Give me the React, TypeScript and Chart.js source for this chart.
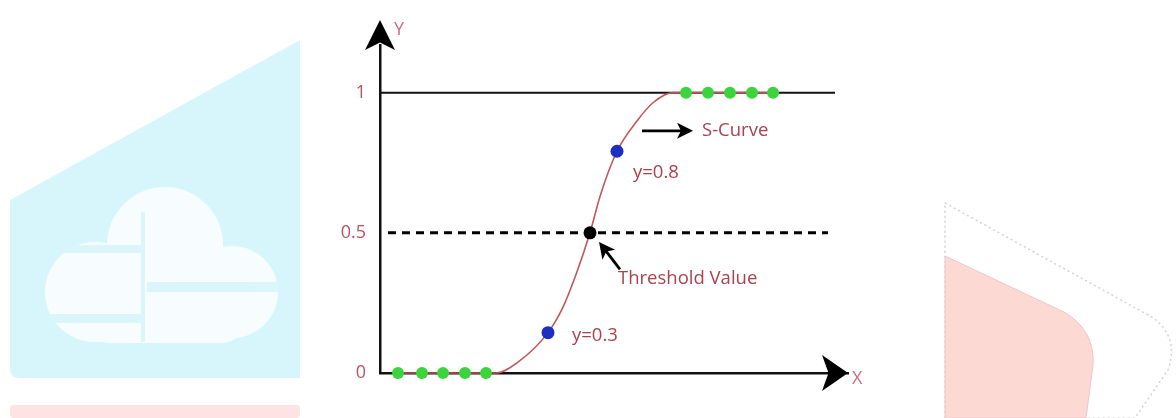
import React, { useEffect, useRef } from "react";
import { Chart, registerables } from "chart.js";

Chart.register(...registerables);

// ---- data (x in arbitrary horizontal units, y = probability) ----
const curveX = [1.8, 11.6, 13.7, 16.8, 18.3, 19.7, 21.0, 22.0, 23.7, 25.7, 27.3, 29.3, 39.3];
const curveY = [0, 0, 0.036, 0.144, 0.235, 0.361, 0.5, 0.63, 0.791, 0.899, 0.964, 1, 1];
const classZeroX = [1.8, 4.2, 6.3, 8.5, 10.6];
const classOneX = [30.6, 32.8, 35.0, 37.2, 39.3];
const sampleX = [16.8, 23.7];
const sampleY = [0.144, 0.791];
const thresholdX = [21.0];
const thresholdY = [0.5];
const upperLineX = [0, 45.5];
const thresholdLineX = [0.8, 44.8];
const yTicks = [0, 0.5, 1];
const yTickLabels = ["0", "0.5", "1"];

const labelTexts = ["S-Curve", "y=0.8", "y=0.3", "Threshold Value"];
const labelX = [32.2, 25.3, 19.2, 23.8];
const labelY = [0.864, 0.715, 0.132, 0.338];
const arrowFromX = [26.2, 24.0];
const arrowFromY = [0.864, 0.37];
const arrowToX = [31.3, 21.9];
const arrowToY = [0.864, 0.467];

const FONT = "'Open Sans', 'Noto Sans', sans-serif";
const TEXT_RED = "#a8424f";
const AXIS_PINK = "#cf6a80";

function drawArrow(ctx: CanvasRenderingContext2D, x1: number, y1: number, x2: number, y2: number, len: number, half: number, lw: number) {
  const a = Math.atan2(y2 - y1, x2 - x1);
  const c = Math.cos(a), s = Math.sin(a);
  if (lw > 0) {
    ctx.lineWidth = lw;
    ctx.beginPath();
    ctx.moveTo(x1, y1);
    ctx.lineTo(x2 - c * len * 0.7, y2 - s * len * 0.7);
    ctx.stroke();
  }
  ctx.beginPath();
  ctx.moveTo(x2, y2);
  ctx.lineTo(x2 - c * len - s * half, y2 - s * len + c * half);
  ctx.lineTo(x2 - c * len * 0.75, y2 - s * len * 0.75);
  ctx.lineTo(x2 - c * len + s * half, y2 - s * len - c * half);
  ctx.closePath();
  ctx.fill();
}

const decorPlugin = {
  id: "decor",
  afterDatasetsDraw(chart: any) {
    const { ctx, chartArea, scales } = chart;
    const xs = scales.x, ys = scales.y;
    ctx.save();
    ctx.fillStyle = "#000";
    ctx.strokeStyle = "#000";
    // y axis arrow
    drawArrow(ctx, chartArea.left, chartArea.top + 5, chartArea.left, chartArea.top - 25, 30, 15, 0);
    // x axis arrow
    drawArrow(ctx, chartArea.right - 26, chartArea.bottom, chartArea.right, chartArea.bottom, 26, 18, 0);
    // axis names
    ctx.fillStyle = AXIS_PINK;
    ctx.font = `18px ${FONT}`;
    ctx.textBaseline = "middle";
    ctx.textAlign = "left";
    ctx.fillText("Y", chartArea.left + 14, chartArea.top - 15);
    ctx.fillText("X", chartArea.right + 4, chartArea.bottom + 6);
    // annotation arrows
    ctx.fillStyle = "#000";
    ctx.strokeStyle = "#000";
    for (let i = 0; i < arrowFromX.length; i++) {
      drawArrow(
        ctx,
        xs.getPixelForValue(arrowFromX[i]),
        ys.getPixelForValue(arrowFromY[i]),
        xs.getPixelForValue(arrowToX[i]),
        ys.getPixelForValue(arrowToY[i]),
        16,
        8,
        2.8
      );
    }
    // annotation texts
    ctx.fillStyle = TEXT_RED;
    ctx.font = `18.5px ${FONT}`;
    for (let i = 0; i < labelTexts.length; i++) {
      ctx.fillText(labelTexts[i], xs.getPixelForValue(labelX[i]), ys.getPixelForValue(labelY[i]));
    }
    ctx.restore();
  },
};

function Watermark() {
  return (
    <svg width={1176} height={418} style={{ position: "absolute", left: 0, top: 0 }}>
      <path d="M10,200 L300,40 L300,378 L20,378 Q10,378 10,368 Z" fill="#d7f6fb" />
      <g fill="#ffffff" opacity={0.8}>
        <circle cx={165} cy={245} r={58} />
        <circle cx={95} cy={292} r={50} />
        <circle cx={232} cy={292} r={46} />
        <rect x={80} y={262} width={170} height={81} rx={30} />
      </g>
      <g fill="#d7f6fb" opacity={0.9}>
        <rect x={47} y={245} width={96} height={8} />
        <rect x={147} y={282} width={132} height={10} />
        <rect x={47} y={314} width={96} height={9} />
        <rect x={141} y={212} width={4} height={130} />
      </g>
      <rect x={10} y={405} width={290} height={13} rx={4} fill="#fde3e3" />
      <path d="M945,203 L1150,316 Q1180,335 1168,370 L1135,418 L945,418 Z" fill="#ffffff" stroke="#d2d2d2" strokeWidth={1.5} strokeDasharray="2 3" />
      <path d="M945,256 L1064,312 Q1095,330 1093,365 L1086,418 L945,418 Z" fill="#fdd9d3" stroke="#ebc6ca" strokeWidth={1} />
    </svg>
  );
}

export default function App() {
  const ref = useRef<HTMLCanvasElement | null>(null);

  useEffect(() => {
    document.body.style.margin = "0";
    if (!ref.current) return;
    const pts = (xs: number[], ys: number[]) => xs.map((x, i) => ({ x, y: ys[i] }));
    const chart = new Chart(ref.current, {
      type: "scatter",
      data: {
        datasets: [
          {
            label: "Threshold",
            data: pts(thresholdX, thresholdY),
            pointRadius: 6.5,
            pointBackgroundColor: "#000",
            pointBorderWidth: 0,
            clip: false,
          } as any,
          {
            label: "Samples",
            data: pts(sampleX, sampleY),
            pointRadius: 6.5,
            pointBackgroundColor: "#1b2fc2",
            pointBorderWidth: 0,
            clip: false,
          },
          {
            label: "Class 0",
            data: pts(classZeroX, classZeroX.map(() => 0)),
            pointRadius: 6,
            pointBackgroundColor: "#3cd43c",
            pointBorderWidth: 0,
            clip: false,
          },
          {
            label: "Class 1",
            data: pts(classOneX, classOneX.map(() => 1)),
            pointRadius: 6,
            pointBackgroundColor: "#3cd43c",
            pointBorderWidth: 0,
            clip: false,
          },
          {
            type: "line",
            label: "S-Curve",
            data: pts(curveX, curveY),
            borderColor: "#c0585a",
            borderWidth: 1.6,
            pointRadius: 0,
            cubicInterpolationMode: "monotone",
            fill: false,
            clip: false,
          } as any,
          {
            type: "line",
            label: "Threshold line",
            data: pts(thresholdLineX, [0.5, 0.5]),
            borderColor: "#000",
            borderWidth: 3,
            borderDash: [8, 6],
            pointRadius: 0,
            fill: false,
            clip: false,
          } as any,
          {
            type: "line",
            label: "y = 1",
            data: pts(upperLineX, [1, 1]),
            borderColor: "#111",
            borderWidth: 2,
            pointRadius: 0,
            fill: false,
            clip: false,
          } as any,
        ],
      },
      options: {
        animation: false,
        responsive: false,
        maintainAspectRatio: false,
        layout: { padding: { left: 0, top: 45, right: 328, bottom: 45 } },
        plugins: { legend: { display: false }, tooltip: { enabled: false } },
        scales: {
          x: {
            type: "linear",
            min: 0,
            max: 46.8,
            grid: { display: false, drawTicks: false },
            ticks: { display: false },
            border: { display: true, color: "#111", width: 2.5 },
            afterFit(s: any) {
              s.height = 0;
            },
          },
          y: {
            type: "linear",
            min: 0,
            max: 1.17,
            grid: { display: false, drawTicks: false },
            border: { display: true, color: "#111", width: 2.5 },
            ticks: {
              padding: 14,
              color: "#b9525f",
              font: { family: FONT, size: 18 },
              callback: (v: any) => {
                const i = yTicks.indexOf(Number(v));
                return i >= 0 ? yTickLabels[i] : "";
              },
            },
            afterBuildTicks(s: any) {
              s.ticks = yTicks.map((v) => ({ value: v }));
            },
            afterFit(s: any) {
              s.width = 380;
            },
          },
        },
      } as any,
      plugins: [decorPlugin],
    });
    return () => chart.destroy();
  }, []);

  return (
    <div style={{ position: "relative", width: 1176, height: 418, overflow: "hidden", background: "#fff" }}>
      <Watermark />
      <canvas ref={ref} width={1176} height={418} style={{ position: "absolute", left: 0, top: 0 }} />
    </div>
  );
}
